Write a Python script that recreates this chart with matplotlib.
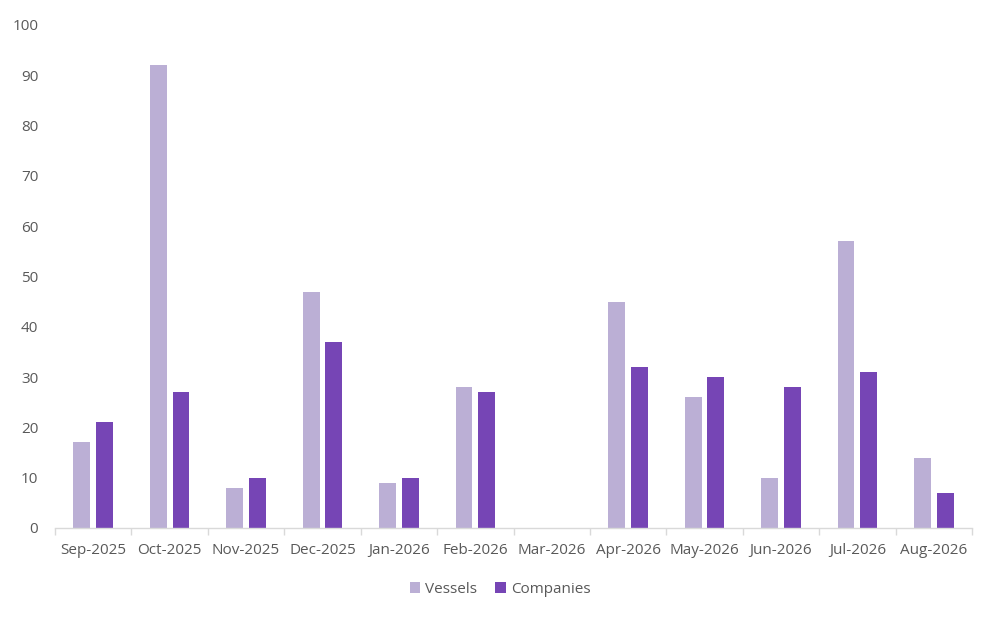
import matplotlib
matplotlib.use("Agg")
import matplotlib.pyplot as plt
import numpy as np

categories = ["Sep-2025", "Oct-2025", "Nov-2025", "Dec-2025", "Jan-2026", "Feb-2026",
              "Mar-2026", "Apr-2026", "May-2026", "Jun-2026", "Jul-2026", "Aug-2026"]
vessels = [17, 92, 8, 47, 9, 28, 0, 45, 26, 10, 57, 14]
companies = [21, 27, 10, 37, 10, 27, 0, 32, 30, 28, 31, 7]
y_ticks = [0, 10, 20, 30, 40, 50, 60, 70, 80, 90, 100]

plt.rcParams['font.family'] = ['Open Sans', 'DejaVu Sans']
text_color = "#595959"

fig = plt.figure(figsize=(10, 6.23), dpi=100)
ax = fig.add_axes([0.055, 0.1525, 0.917, 0.8075])

x = np.arange(len(categories))
w = 0.22
off = 0.148
ax.bar(x - off, vessels, width=w, color="#BBAFD5", label="Vessels")
ax.bar(x + off, companies, width=w, color="#7645B5", label="Companies")

ax.set_xlim(-0.5, len(categories) - 0.5)
ax.set_ylim(0, 100)
ax.set_yticks(y_ticks)
ax.set_xticks(x)
ax.set_xticklabels(categories)
ax.set_xticks(np.arange(-0.5, len(categories)), minor=True)
ax.tick_params(axis='x', which='major', length=0, pad=11, labelsize=11, labelcolor=text_color)
ax.tick_params(axis='x', which='minor', length=5, color="#D9D9D9", width=1)
ax.tick_params(axis='y', length=0, pad=12, labelsize=11, labelcolor=text_color)

for s in ['top', 'right', 'left']:
    ax.spines[s].set_visible(False)
ax.spines['bottom'].set_color("#D9D9D9")
ax.spines['bottom'].set_linewidth(1)

leg = fig.legend(loc='lower center', bbox_to_anchor=(0.5, 0.02), ncol=2, frameon=False,
                 fontsize=11, handlelength=0.7, handleheight=0.7, handletextpad=0.3,
                 columnspacing=1.2)
for t in leg.get_texts():
    t.set_color(text_color)

fig.savefig("out.png", dpi=100)
